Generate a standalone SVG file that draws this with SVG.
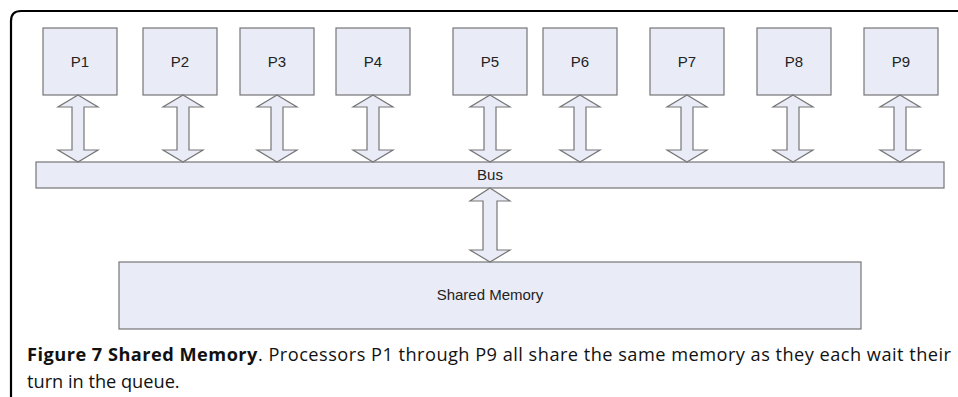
<svg xmlns="http://www.w3.org/2000/svg" width="958" height="397" viewBox="0 0 958 397">
<style>
.box{fill:#e9ecf7;stroke:#767676;stroke-width:1.2}
.arr{fill:#e9ecf7;stroke:#767676;stroke-width:1.2;stroke-linejoin:miter}
.lbl{font-family:"Liberation Sans",Arial,sans-serif;font-size:15px;fill:#222;text-anchor:middle}
.cap{font-family:"Open Sans","Noto Sans",sans-serif;font-size:18.2px;fill:#111}
</style>
<defs>
<polygon id="pa" points="0,0 20,12 6,12 6,55 20,55 0,67 -20,55 -6,55 -6,12 -20,12"/>
</defs>
<rect width="958" height="397" fill="#fff"/>
<path d="M11,397 V21 Q11,11 21,11 H958" fill="none" stroke="#000" stroke-width="2.2"/>
<g id="P1"><rect class="box" x="43" y="28" width="74" height="67"/><text class="lbl" x="80" y="67">P1</text></g>
<g id="P2"><rect class="box" x="143" y="28" width="74" height="67"/><text class="lbl" x="180" y="67">P2</text></g>
<g id="P3"><rect class="box" x="240" y="28" width="74" height="67"/><text class="lbl" x="277" y="67">P3</text></g>
<g id="P4"><rect class="box" x="336" y="28" width="74" height="67"/><text class="lbl" x="373" y="67">P4</text></g>
<g id="P5"><rect class="box" x="453" y="28" width="74" height="67"/><text class="lbl" x="490" y="67">P5</text></g>
<g id="P6"><rect class="box" x="543" y="28" width="74" height="67"/><text class="lbl" x="580" y="67">P6</text></g>
<g id="P7"><rect class="box" x="650" y="28" width="74" height="67"/><text class="lbl" x="687" y="67">P7</text></g>
<g id="P8"><rect class="box" x="757" y="28" width="74" height="67"/><text class="lbl" x="794" y="67">P8</text></g>
<g id="P9"><rect class="box" x="864" y="28" width="74" height="67"/><text class="lbl" x="901" y="67">P9</text></g>
<g id="bus"><rect class="box" x="36" y="162" width="908" height="26"/><text class="lbl" x="490" y="180">Bus</text></g>
<g id="memory"><rect class="box" x="119" y="262" width="742" height="67"/><text class="lbl" x="490" y="300">Shared Memory</text></g>
<g id="connectors">
<use href="#pa" class="arr" x="78" y="95"/>
<use href="#pa" class="arr" x="183" y="95"/>
<use href="#pa" class="arr" x="277" y="95"/>
<use href="#pa" class="arr" x="373" y="95"/>
<use href="#pa" class="arr" x="490" y="95"/>
<use href="#pa" class="arr" x="580" y="95"/>
<use href="#pa" class="arr" x="687" y="95"/>
<use href="#pa" class="arr" x="793" y="95"/>
<use href="#pa" class="arr" x="900" y="95"/>
<polygon class="arr" points="490,188 510,201 497,201 497,250 510,250 490,262 470,250 483,250 483,201 470,201"/>
</g>
<g id="caption">
<text class="cap" x="27" y="361" textLength="924" lengthAdjust="spacing"><tspan font-weight="bold">Figure 7 Shared Memory</tspan>. Processors P1 through P9 all share the same memory as they each wait their</text>
<text class="cap" x="27" y="388">turn in the queue.</text>
</g>
</svg>
